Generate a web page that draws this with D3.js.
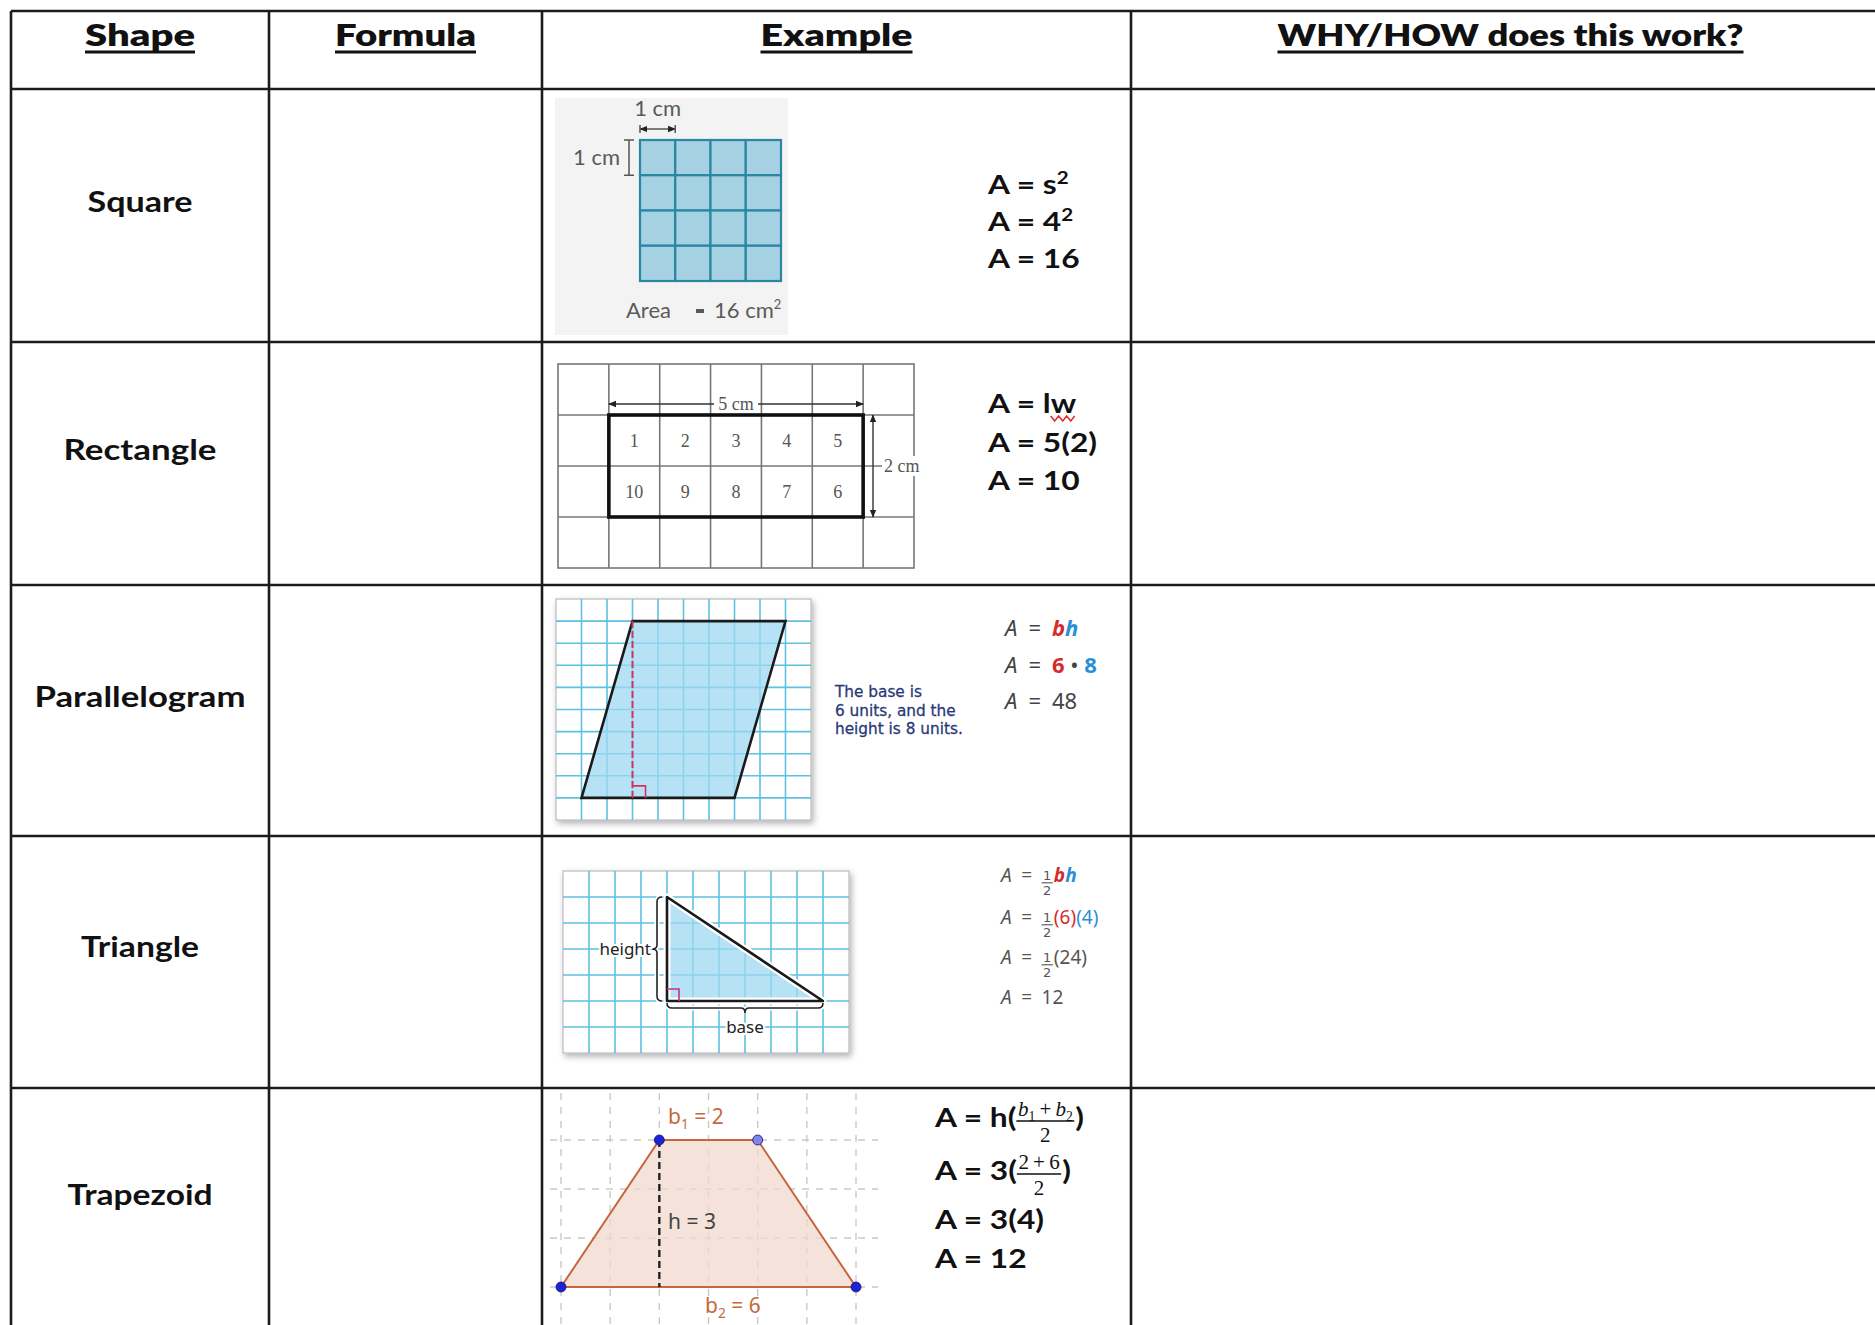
<!DOCTYPE html>
<html>
<head>
<meta charset="utf-8">
<script src="https://cdn.jsdelivr.net/npm/d3@7"></script>
<style>
  body { margin: 0; background: #fff; }
  svg { display: block; }
</style>
</head>
<body>
<svg id="chart" width="1875" height="1325"></svg>
<script>
// ---- content ----
const headers = ['Shape', 'Formula', 'Example', 'WHY/HOW does this work?'];
const shapes = ['Square', 'Rectangle', 'Parallelogram', 'Triangle', 'Trapezoid'];

// square: 4 x 4 unit squares
const squareSide = 4;
const squareLines = [
  [{t: 'A = s'}, {t: '2', sup: true}],
  [{t: 'A = 4'}, {t: '2', sup: true}],
  [{t: 'A = 16'}]
];

// rectangle: 5 x 2 inside a 7 x 4 grid
const rectGrid = [7, 4];
const rectBox = [1, 1, 6, 3];
const rectTop = [1, 2, 3, 4, 5];
const rectBottom = [10, 9, 8, 7, 6];
const rectLines = [[{t: 'A = l'}, {t: 'w', flag: true}], [{t: 'A = 5(2)'}], [{t: 'A = 10'}]];

// parallelogram on a 10 x 10 grid: base 6, height 8
const paraGrid = [10, 10];
const paraPts = [[3, 1], [9, 1], [7, 9], [1, 9]];
const paraNote = ['The base is', '6 units, and the', 'height is 8 units.'];

// triangle on an 11 x 7 grid: base 6, height 4
const triGrid = [11, 7];
const triPts = [[4, 1], [4, 5], [10, 5]];

// trapezoid on a unit grid: b1 = 2, b2 = 6, h = 3
const trapCols = 6, trapRows = 3;
const trapPts = [[2, 0], [4, 0], [6, 3], [0, 3]];

const A = {t: 'A', i: true};
const EQ = {t: '\u2002=\u2002'};
const half = {num: [{t: '1'}], den: [{t: '2'}]};

const paraLines = [
  [A, EQ, {t: 'b', role: 'base', bold: true, i: true}, {t: 'h', role: 'height', bold: true, i: true}],
  [A, EQ, {t: '6', role: 'base', bold: true}, {t: ' \u2022 '}, {t: '8', role: 'height', bold: true}],
  [A, EQ, {t: '48'}]
];
const triLines = [
  [A, EQ, half, {t: 'b', role: 'base', bold: true, i: true}, {t: 'h', role: 'height', bold: true, i: true}],
  [A, EQ, half, {t: '(6)', role: 'base'}, {t: '(4)', role: 'height'}],
  [A, EQ, half, {t: '(24)'}],
  [A, EQ, {t: '12'}]
];
const trapLines = [
  [{t: 'A = h('}, {num: [{t: 'b', i: true}, {t: '1', sub: true}, {t: '\u2009+\u2009'}, {t: 'b', i: true}, {t: '2', sub: true}], den: [{t: '2'}]}, {t: ')'}],
  [{t: 'A = 3('}, {num: [{t: '2\u2009+\u20096'}], den: [{t: '2'}]}, {t: ')'}],
  [{t: 'A = 3(4)'}],
  [{t: 'A = 12'}]
];

// ---- layout ----
const colX = [11, 269, 542, 1131, 1890];
const rowY = [11, 89, 342, 585, 836, 1088, 1329];
const headerW = [110, 141, 152, 466];
const labelW = [105, 153, 211, 118, 145];
const labelBase = [212, 460, 707, 957, 1205];

const fontMain = 'Lato, "DejaVu Sans", sans-serif';
const fontMath = '"Noto Sans", "DejaVu Sans", sans-serif';
const fontSerif = '"Liberation Serif", "DejaVu Serif", serif';
const roleColor = {base: '#d42b2b', height: '#2b8fd6'};

const svg = d3.select('#chart');
const defs = svg.append('defs');
defs.append('filter').attr('id', 'shadow')
  .attr('x', '-10%').attr('y', '-10%').attr('width', '125%').attr('height', '125%')
  .append('feDropShadow')
  .attr('dx', 2).attr('dy', 3).attr('stdDeviation', 3)
  .attr('flood-color', '#000').attr('flood-opacity', 0.3);
defs.append('marker').attr('id', 'arr')
  .attr('viewBox', '0 0 10 10').attr('refX', 9).attr('refY', 5)
  .attr('markerWidth', 8).attr('markerHeight', 8).attr('orient', 'auto-start-reverse')
  .attr('markerUnits', 'userSpaceOnUse')
  .append('path').attr('d', 'M0,1L10,5L0,9Z').attr('fill', '#222');

// inline run renderer (text pieces, sub/sup, stacked fractions)
// returns width; flagged runs get their extent stored in o.flags
function drawRuns(g, list, o) {
  let cx = 0;
  const k = o.stretch || 1;
  list.forEach(r => {
    if (r.num) {
      const f = o.frac;
      const fo = Object.assign({}, o, {fs: f.fs, font: f.font || o.font, weight: f.weight || o.weight, stretch: 1});
      const ng = g.append('g');
      const dg = g.append('g');
      const nw = drawRuns(ng, r.num, fo);
      const dw = drawRuns(dg, r.den, fo);
      const w = Math.max(nw, dw) + 3;
      ng.attr('transform', `translate(${cx + (w - nw) / 2},${-f.up})`);
      dg.attr('transform', `translate(${cx + (w - dw) / 2},${f.down})`);
      g.append('line')
        .attr('x1', cx).attr('x2', cx + w)
        .attr('y1', -f.bar).attr('y2', -f.bar)
        .attr('stroke', o.fill).attr('stroke-width', f.bw || 1.2);
      cx += w + 1;
      return;
    }
    const small = r.sup || r.sub;
    const t = g.append('text')
      .attr('x', cx)
      .attr('y', r.sup ? -o.fs * 0.4 : r.sub ? o.fs * 0.22 : 0)
      .attr('font-family', o.font)
      .attr('font-size', small ? o.fs * 0.65 : o.fs)
      .attr('font-weight', r.bold ? 700 : o.weight)
      .attr('font-style', r.i ? 'italic' : null)
      .attr('fill', r.role ? roleColor[r.role] : o.fill)
      .style('white-space', 'pre')
      .text(r.t);
    const len = t.node().getComputedTextLength() * k;
    if (k !== 1) t.attr('textLength', len).attr('lengthAdjust', 'spacingAndGlyphs');
    if (r.flag && o.flags) o.flags.push([cx, cx + len]);
    cx += len;
  });
  return cx;
}

function drawFormula(x, baselines, lines, o) {
  const g = svg.append('g');
  lines.forEach((line, i) => {
    drawRuns(g.append('g').attr('transform', `translate(${x},${baselines[i]})`), line, o);
  });
  return g;
}

// ---- table ----
const grid = svg.append('g').attr('stroke', '#1c1c1c').attr('stroke-width', 2.6);
grid.selectAll('.v').data(colX.slice(0, 4)).enter().append('line')
  .attr('x1', d => d).attr('x2', d => d).attr('y1', rowY[0]).attr('y2', 1325);
grid.selectAll('.h').data(rowY.slice(0, 6)).enter().append('line')
  .attr('x1', colX[0]).attr('x2', 1875).attr('y1', d => d).attr('y2', d => d);

const colMid = i => (colX[i] + colX[i + 1]) / 2;

const head = svg.append('g');
headers.forEach((h, i) => {
  head.append('text')
    .attr('x', colMid(i) - headerW[i] / 2).attr('y', 46)
    .attr('textLength', headerW[i]).attr('lengthAdjust', 'spacingAndGlyphs')
    .attr('font-family', fontMain).attr('font-weight', 800).attr('font-size', 30)
    .attr('fill', '#111').text(h);
  head.append('line')
    .attr('x1', colMid(i) - headerW[i] / 2).attr('x2', colMid(i) + headerW[i] / 2)
    .attr('y1', 52).attr('y2', 52).attr('stroke', '#111').attr('stroke-width', 3);
});

svg.append('g').selectAll('text').data(shapes).enter().append('text')
  .attr('x', (d, i) => colMid(0) - labelW[i] / 2)
  .attr('y', (d, i) => labelBase[i])
  .attr('textLength', (d, i) => labelW[i]).attr('lengthAdjust', 'spacingAndGlyphs')
  .attr('font-family', fontMain).attr('font-weight', 700).attr('font-size', 29)
  .attr('fill', '#111').text(d => d);

const bold = {fs: 26, font: fontMain, weight: 700, fill: '#111', stretch: 1.22};

// ---- square ----
{
  const g = svg.append('g');
  g.append('rect').attr('x', 555).attr('y', 98).attr('width', 233).attr('height', 237).attr('fill', '#f3f3f3');
  const x = d3.scaleLinear().domain([0, squareSide]).range([640, 781]);
  const y = d3.scaleLinear().domain([0, squareSide]).range([140, 281]);
  const cells = d3.cross(d3.range(squareSide), d3.range(squareSide));
  g.selectAll('.cell').data(cells).enter().append('rect')
    .attr('x', d => x(d[0])).attr('y', d => y(d[1]))
    .attr('width', x(1) - x(0)).attr('height', y(1) - y(0))
    .attr('fill', '#a6d1e3').attr('stroke', '#2a87a3').attr('stroke-width', 2.2);
  const dim = g.append('g').attr('stroke', '#555').attr('stroke-width', 1.5).attr('fill', 'none');
  dim.append('line').attr('x1', x(0)).attr('x2', x(1)).attr('y1', 129).attr('y2', 129)
    .attr('marker-start', 'url(#arr)').attr('marker-end', 'url(#arr)');
  dim.append('line').attr('x1', x(0)).attr('x2', x(0)).attr('y1', 125).attr('y2', 133);
  dim.append('line').attr('x1', x(1)).attr('x2', x(1)).attr('y1', 125).attr('y2', 133);
  dim.append('line').attr('x1', 629).attr('x2', 629).attr('y1', y(0)).attr('y2', y(1));
  dim.append('line').attr('x1', 624).attr('x2', 634).attr('y1', y(0)).attr('y2', y(0));
  dim.append('line').attr('x1', 624).attr('x2', 634).attr('y1', y(1)).attr('y2', y(1));
  const lab = (t, tx, ty, anchor) => g.append('text').attr('x', tx).attr('y', ty).attr('text-anchor', anchor)
    .attr('font-family', fontMain).attr('font-size', 22).attr('fill', '#5a5a5a').text(t);
  lab('1 cm', (x(0) + x(1)) / 2, 116, 'middle');
  lab('1 cm', 620, 165, 'end');
  lab('Area', 626, 318, 'start');
  g.append('rect').attr('x', 696).attr('y', 309).attr('width', 8).attr('height', 4).attr('fill', '#5a5a5a');
  const t3 = lab('16 cm', 714, 318, 'start');
  t3.append('tspan').attr('dy', -9).attr('font-size', 13).text('2');
  drawFormula(988, [194, 231, 268], squareLines, bold);
}

// ---- rectangle ----
{
  const g = svg.append('g');
  const x = d3.scaleLinear().domain([0, rectGrid[0]]).range([558, 914]);
  const y = d3.scaleLinear().domain([0, rectGrid[1]]).range([364, 568]);
  g.append('rect').attr('x', x(0)).attr('y', y(0)).attr('width', x(rectGrid[0]) - x(0)).attr('height', y(rectGrid[1]) - y(0))
    .attr('fill', '#fff').attr('stroke', '#777').attr('stroke-width', 1.6);
  g.selectAll('.gv').data(d3.range(1, rectGrid[0])).enter().append('line')
    .attr('x1', d => x(d)).attr('x2', d => x(d)).attr('y1', y(0)).attr('y2', y(rectGrid[1]))
    .attr('stroke', '#777').attr('stroke-width', 1.6);
  g.selectAll('.gh').data(d3.range(1, rectGrid[1])).enter().append('line')
    .attr('x1', x(0)).attr('x2', x(rectGrid[0])).attr('y1', d => y(d)).attr('y2', d => y(d))
    .attr('stroke', '#777').attr('stroke-width', 1.6);
  g.append('rect').attr('x', x(rectBox[0])).attr('y', y(rectBox[1]))
    .attr('width', x(rectBox[2]) - x(rectBox[0])).attr('height', y(rectBox[3]) - y(rectBox[1]))
    .attr('fill', 'none').attr('stroke', '#111').attr('stroke-width', 3.6);
  const num = (arr, row) => g.selectAll(null).data(arr).enter().append('text')
    .attr('x', (d, i) => x(rectBox[0] + i + 0.5)).attr('y', y(row + 0.5) + 6)
    .attr('text-anchor', 'middle').attr('font-family', fontSerif).attr('font-size', 18).attr('fill', '#555')
    .text(d => d);
  num(rectTop, 1);
  num(rectBottom, 2);
  // 5 cm arrow
  g.append('line').attr('x1', x(rectBox[0])).attr('x2', x(rectBox[2])).attr('y1', 404).attr('y2', 404)
    .attr('stroke', '#333').attr('stroke-width', 1.4)
    .attr('marker-start', 'url(#arr)').attr('marker-end', 'url(#arr)');
  const mid = (x(rectBox[0]) + x(rectBox[2])) / 2;
  g.append('rect').attr('x', mid - 22).attr('y', 394).attr('width', 44).attr('height', 18).attr('fill', '#fff');
  g.append('text').attr('x', mid).attr('y', 410).attr('text-anchor', 'middle')
    .attr('font-family', fontSerif).attr('font-size', 18).attr('fill', '#555').text('5 cm');
  // 2 cm arrow
  g.append('line').attr('x1', 873).attr('x2', 873).attr('y1', y(rectBox[1])).attr('y2', y(rectBox[3]))
    .attr('stroke', '#333').attr('stroke-width', 1.4)
    .attr('marker-start', 'url(#arr)').attr('marker-end', 'url(#arr)');
  g.append('rect').attr('x', 882).attr('y', 456).attr('width', 42).attr('height', 20).attr('fill', '#fff');
  g.append('text').attr('x', 884).attr('y', 472)
    .attr('font-family', fontSerif).attr('font-size', 18).attr('fill', '#555').text('2 cm');
  const flags = [];
  drawFormula(988, [413, 452, 490], rectLines, Object.assign({}, bold, {flags: flags}));
  // spell-check squiggle under the flagged "w"
  flags.forEach(([a, b]) => {
    const n = Math.round((b - a) / 4) + 1;
    const sq = d3.range(n).map(i => [988 + a + i * 4, i % 2 ? 421 : 416]);
    g.append('path').attr('d', d3.line()(sq)).attr('fill', 'none').attr('stroke', '#e03030').attr('stroke-width', 1.6);
  });
}

// ---- parallelogram ----
{
  const g = svg.append('g');
  const x = d3.scaleLinear().domain([0, paraGrid[0]]).range([556, 811]);
  const y = d3.scaleLinear().domain([0, paraGrid[1]]).range([599, 820]);
  g.append('rect').attr('x', x(0)).attr('y', y(0)).attr('width', x(paraGrid[0]) - x(0)).attr('height', y(paraGrid[1]) - y(0))
    .attr('fill', '#fff').attr('stroke', '#bbb').attr('stroke-width', 1.2).attr('filter', 'url(#shadow)');
  g.selectAll('.gv').data(d3.range(1, paraGrid[0])).enter().append('line')
    .attr('x1', d => x(d)).attr('x2', d => x(d)).attr('y1', y(0)).attr('y2', y(paraGrid[1]))
    .attr('stroke', '#5dc1e0').attr('stroke-width', 1.6);
  g.selectAll('.gh').data(d3.range(1, paraGrid[1])).enter().append('line')
    .attr('x1', x(0)).attr('x2', x(paraGrid[0])).attr('y1', d => y(d)).attr('y2', d => y(d))
    .attr('stroke', '#5dc1e0').attr('stroke-width', 1.6);
  const pts = paraPts.map(p => [x(p[0]), y(p[1])]);
  g.append('path').attr('d', d3.line()(pts) + 'Z')
    .attr('fill', '#9fd8f2').attr('fill-opacity', 0.75)
    .attr('stroke', '#1a1a1a').attr('stroke-width', 2.6).attr('stroke-linejoin', 'miter');
  const hx = x(paraPts[0][0]);
  g.append('line').attr('x1', hx).attr('x2', hx).attr('y1', y(paraPts[0][1])).attr('y2', y(paraPts[3][1]))
    .attr('stroke', '#d2325e').attr('stroke-width', 2).attr('stroke-dasharray', '7,3');
  g.append('path').attr('d', `M${hx},${y(paraPts[3][1]) - 12}h13v12`)
    .attr('fill', 'none').attr('stroke', '#d2325e').attr('stroke-width', 1.6);
  g.selectAll('.note').data(paraNote).enter().append('text')
    .attr('x', 835).attr('y', (d, i) => 697 + i * 18.5)
    .attr('font-family', '"DejaVu Sans", sans-serif').attr('font-size', 15.3)
    .attr('fill', '#2a3878').attr('stroke', '#2a3878').attr('stroke-width', 0.3)
    .text(d => d);
  drawFormula(1005, [636, 673, 709], paraLines,
    {fs: 22, font: fontMath, weight: 400, fill: '#444'});
}

// ---- triangle ----
{
  const g = svg.append('g');
  const x = d3.scaleLinear().domain([0, triGrid[0]]).range([563, 849]);
  const y = d3.scaleLinear().domain([0, triGrid[1]]).range([871, 1053]);
  g.append('rect').attr('x', x(0)).attr('y', y(0)).attr('width', x(triGrid[0]) - x(0)).attr('height', y(triGrid[1]) - y(0))
    .attr('fill', '#fff').attr('stroke', '#bbb').attr('stroke-width', 1.2).attr('filter', 'url(#shadow)');
  g.selectAll('.gv').data(d3.range(1, triGrid[0])).enter().append('line')
    .attr('x1', d => x(d)).attr('x2', d => x(d)).attr('y1', y(0)).attr('y2', y(triGrid[1]))
    .attr('stroke', '#5dc1e0').attr('stroke-width', 1.6);
  g.selectAll('.gh').data(d3.range(1, triGrid[1])).enter().append('line')
    .attr('x1', x(0)).attr('x2', x(triGrid[0])).attr('y1', d => y(d)).attr('y2', d => y(d))
    .attr('stroke', '#5dc1e0').attr('stroke-width', 1.6);
  const pts = triPts.map(p => [x(p[0]), y(p[1])]);
  const d = d3.line()(pts) + 'Z';
  g.append('path').attr('d', d).attr('fill', '#9fd8f2').attr('fill-opacity', 0.75)
    .attr('stroke', '#fff').attr('stroke-width', 7).attr('stroke-linejoin', 'round');
  g.append('path').attr('d', d).attr('fill', 'none')
    .attr('stroke', '#1a1a1a').attr('stroke-width', 2.6).attr('stroke-linejoin', 'round');
  g.append('path').attr('d', `M${pts[1][0]},${pts[1][1] - 12}h12v12`)
    .attr('fill', 'none').attr('stroke', '#c2308e').attr('stroke-width', 1.6);
  // braces
  const bx = pts[0][0] - 10, y1 = pts[0][1], y2 = pts[1][1], ym = (y1 + y2) / 2;
  const vb = `M${bx + 5},${y1}Q${bx},${y1} ${bx},${y1 + 5}L${bx},${ym - 4}Q${bx},${ym} ${bx - 5},${ym}` +
    `Q${bx},${ym} ${bx},${ym + 4}L${bx},${y2 - 5}Q${bx},${y2} ${bx + 5},${y2}`;
  const by = pts[1][1] + 7, x1 = pts[1][0], x2 = pts[2][0], xm = (x1 + x2) / 2;
  const hb = `M${x1},${by - 5}Q${x1},${by} ${x1 + 5},${by}L${xm - 4},${by}Q${xm},${by} ${xm},${by + 5}` +
    `Q${xm},${by} ${xm + 4},${by}L${x2 - 5},${by}Q${x2},${by} ${x2},${by - 5}`;
  [vb, hb].forEach(p => {
    g.append('path').attr('d', p).attr('fill', 'none').attr('stroke', '#fff').attr('stroke-width', 5);
    g.append('path').attr('d', p).attr('fill', 'none').attr('stroke', '#222').attr('stroke-width', 1.6);
  });
  const lab = (t, tx, ty, anchor) => g.append('text').attr('x', tx).attr('y', ty).attr('text-anchor', anchor)
    .attr('font-family', fontMath).attr('font-size', 17).attr('fill', '#222')
    .attr('stroke', '#fff').attr('stroke-width', 4).attr('paint-order', 'stroke').text(t);
  lab('height', bx - 6, ym + 6, 'end');
  lab('base', xm, 1033, 'middle');
  drawFormula(1001, [882, 924, 964, 1004], triLines,
    {fs: 19, font: fontMath, weight: 400, fill: '#555',
     frac: {fs: 13, font: '"DejaVu Sans", sans-serif', up: 2.5, bar: -0.8, down: 12.5, bw: 1.1}});
}

// ---- trapezoid ----
{
  const g = svg.append('g');
  const x = d3.scaleLinear().domain([0, trapCols]).range([561, 856]);
  const y = d3.scaleLinear().domain([0, trapRows]).range([1140, 1287]);
  const dash = {stroke: '#c9c9c9', 'stroke-width': 1.4, 'stroke-dasharray': '7,7'};
  const vl = g.selectAll('.gv').data(d3.range(0, trapCols + 1)).enter().append('line')
    .attr('x1', d => x(d)).attr('x2', d => x(d)).attr('y1', 1093).attr('y2', 1325);
  const hl = g.selectAll('.gh').data(d3.range(0, trapRows + 1)).enter().append('line')
    .attr('x1', 550).attr('x2', 878).attr('y1', d => y(d)).attr('y2', d => y(d));
  [vl, hl].forEach(s => Object.entries(dash).forEach(([k, v]) => s.attr(k, v)));
  const pts = trapPts.map(p => [x(p[0]), y(p[1])]);
  g.append('path').attr('d', d3.line()(pts) + 'Z')
    .attr('fill', '#f1d9cf').attr('fill-opacity', 0.75)
    .attr('stroke', '#c4673d').attr('stroke-width', 2);
  g.append('line').attr('x1', pts[0][0]).attr('x2', pts[0][0]).attr('y1', pts[0][1]).attr('y2', pts[3][1])
    .attr('stroke', '#222').attr('stroke-width', 2.4).attr('stroke-dasharray', '7,4');
  g.selectAll('circle').data(pts).enter().append('circle')
    .attr('cx', d => d[0]).attr('cy', d => d[1]).attr('r', 5)
    .attr('fill', (d, i) => i === 1 ? '#7f84e6' : '#1d22d8')
    .attr('stroke', '#10146a').attr('stroke-width', 0.8);
  const lab = (runs, tx, ty, fill) => drawRuns(g.append('g').attr('transform', `translate(${tx},${ty})`), runs,
    {fs: 21, font: fontMath, weight: 400, fill: fill});
  lab([{t: 'b'}, {t: '1', sub: true}, {t: ' = 2'}], 668, 1124, '#c46a3c');
  lab([{t: 'h = 3'}], 668, 1229, '#444');
  lab([{t: 'b'}, {t: '2', sub: true}, {t: ' = 6'}], 705, 1313, '#c46a3c');
  drawFormula(935, [1127, 1180, 1229, 1268], trapLines,
    Object.assign({}, bold, {frac: {fs: 21, font: fontSerif, weight: 400, up: 11, bar: 6, down: 15, bw: 1.3}}));
}
</script>
</body>
</html>
